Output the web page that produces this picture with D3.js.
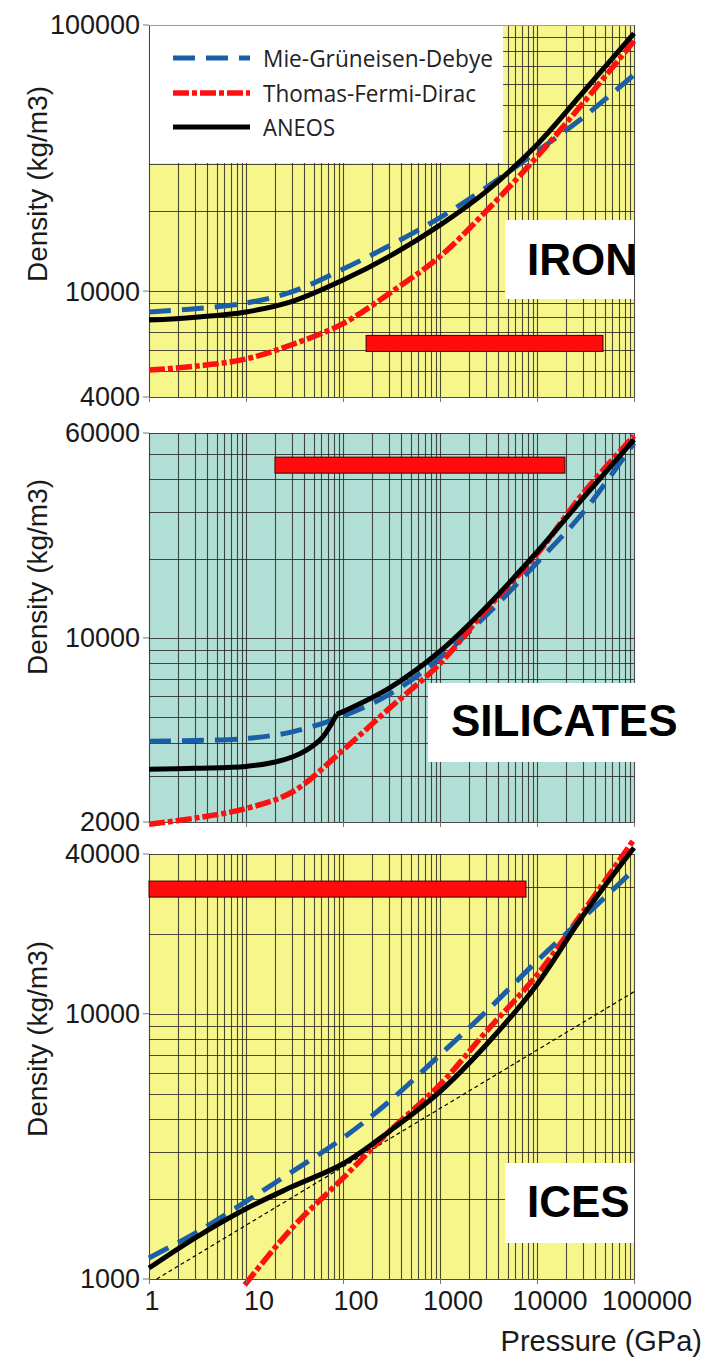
<!DOCTYPE html>
<html><head><meta charset="utf-8">
<script src="https://cdn.jsdelivr.net/npm/d3@7"></script>
<style>html,body{margin:0;padding:0;background:#fff;} svg{display:block;}</style>
</head><body>
<svg id="chart" width="719" height="1358"></svg>
<script>
// ---------------- DATA ----------------
const pressureTicks = [1, 10, 100, 1000, 10000, 100000];
const pressureTickLabels = ["1", "10", "100", "1000", "10000", "100000"];
const panelNames = ["IRON", "SILICATES", "ICES"];
const seriesNames = ["Mie-Grüneisen-Debye", "Thomas-Fermi-Dirac", "ANEOS"];
const xTitle = "Pressure (GPa)";
const yTitle = "Density (kg/m3)";

// Iron
const ironDensityDomain = [4000, 100000];
const ironDensityTicks = [4000, 10000, 100000];
const ironDensityTickLabels = ["4000", "10000", "100000"];
const ironPressure = [1, 3, 10, 30, 100, 300, 1000, 3000, 10000, 30000, 100000];
const ironMGD   = [8350, 8580, 9020, 9950, 12100, 14800, 18900, 24500, 33500, 45000, 65000];
const ironTFD   = [5050, 5220, 5560, 6300, 7550, 9800, 13500, 20000, 32000, 51000, 87000];
const ironANEOS = [7780, 7980, 8350, 9150, 11000, 13500, 17700, 23700, 35500, 56000, 93000];
const ironRange = [173, 47900];
const ironRangeLevel = 6360;

// Silicates
const silDensityDomain = [2000, 60000];
const silDensityTicks = [2000, 10000, 60000];
const silDensityTickLabels = ["2000", "10000", "60000"];
const silPressure = [1, 3, 10, 30, 100, 300, 1000, 3000, 10000, 30000, 100000];
const silMGD = [4050, 4080, 4150, 4400, 5050, 6100, 8400, 12200, 19300, 30000, 55000];
const silTFD = [1960, 2070, 2250, 2600, 3750, 5400, 8000, 12800, 20800, 35500, 58500];
const silANEOSPressure = [1, 3, 10, 20, 30, 42, 60, 73, 86, 100, 300, 1000, 3000, 10000, 30000, 100000];
const silANEOS = [3170, 3200, 3250, 3380, 3530, 3750, 4150, 4600, 5130, 5250, 6450, 8900, 13100, 21200, 34000, 56600];
const silANEOSKink = 86;
const silRange = [19.9, 19400];
const silRangeLevel = 45300;

// Ices
const iceDensityDomain = [1000, 40000];
const iceDensityTicks = [1000, 10000, 40000];
const iceDensityTickLabels = ["1000", "10000", "40000"];
const icePressure = [1, 3, 10, 30, 100, 300, 1000, 3000, 10000, 30000, 100000];
const iceMGD   = [1200, 1490, 1960, 2540, 3400, 4670, 7000, 10200, 15800, 23000, 34900];
const iceANEOS = [1100, 1430, 1840, 2230, 2720, 3600, 5090, 7640, 12900, 23500, 42200];
const iceTFDPressure = [9.7, 30, 100, 300, 1000, 3000, 10000, 30000, 100000];
const iceTFD = [950, 1560, 2400, 3600, 5400, 8570, 14000, 24300, 45400];
const iceRefPressure = [1.2, 100000];
const iceRef = [1000, 12100];
const iceRange = [1, 7700];
const iceRangeLevel = 29500;

// ---------------- STYLES / LAYOUT ----------------
const STY = {
  mgd:   {stroke: "#1b5ea6", width: 5,   dash: "22,11"},
  tfd:   {stroke: "#ff1010", width: 5.5, dash: "16,3,5,3"},
  aneos: {stroke: "#000000", width: 5,   dash: null},
  ref:   {stroke: "#000000", width: 1.2, dash: "4,3"}
};
const zip = (p, d) => p.map((v, i) => [v, d[i]]);

const panels = [
  {name: panelNames[0], domain: ironDensityDomain, ticks: ironDensityTicks, tickLabels: ironDensityTickLabels,
   top: 25, bottom: 397, bg: "#f7f68b",
   series: [{pts: zip(ironPressure, ironMGD), s: STY.mgd}, {pts: zip(ironPressure, ironTFD), s: STY.tfd}, {pts: zip(ironPressure, ironANEOS), s: STY.aneos}],
   range: ironRange, level: ironRangeLevel,
   box: [505, 220, 634, 299], label: [527, 275], ylabY: 184, legend: true},
  {name: panelNames[1], domain: silDensityDomain, ticks: silDensityTicks, tickLabels: silDensityTickLabels,
   top: 433, bottom: 822, bg: "#b2dfd5",
   series: [{pts: zip(silPressure, silMGD), s: STY.mgd}, {pts: zip(silPressure, silTFD), s: STY.tfd}, {pts: zip(silANEOSPressure, silANEOS), s: STY.aneos, kink: silANEOSKink}],
   range: silRange, level: silRangeLevel,
   box: [428, 683, 705, 762], label: [451, 736], ylabY: 577},
  {name: panelNames[2], domain: iceDensityDomain, ticks: iceDensityTicks, tickLabels: iceDensityTickLabels,
   top: 854, bottom: 1279, bg: "#f7f68b",
   series: [{pts: zip(iceRefPressure, iceRef), s: STY.ref}, {pts: zip(iceTFDPressure, iceTFD), s: STY.tfd}, {pts: zip(icePressure, iceMGD), s: STY.mgd}, {pts: zip(icePressure, iceANEOS), s: STY.aneos}],
   range: iceRange, level: iceRangeLevel,
   box: [505, 1163, 634, 1243], label: [527, 1217], ylabY: 1039, xlabels: true}
];

const svg = d3.select("#chart");
const X0 = 149, X1 = 634;
const x = d3.scaleLog().domain([1, 100000]).range([X0, X1]);

function logGrid(lo, hi) {
  const out = [];
  for (let e = Math.floor(Math.log10(lo)); e <= Math.ceil(Math.log10(hi)); e++) {
    for (let m = 1; m <= 9; m++) {
      const v = m * Math.pow(10, e);
      if (v >= lo * 0.999 && v <= hi * 1.001) out.push(v);
    }
  }
  return out;
}
const vGrid = logGrid(1, 100000);
const FONT = "'Liberation Sans', Arial, sans-serif";

panels.forEach(P => {
  const y = d3.scaleLog().domain(P.domain).range([P.bottom, P.top]);
  const g = svg.append("g");
  g.append("rect").attr("x", X0).attr("y", P.top).attr("width", X1 - X0).attr("height", P.bottom - P.top).attr("fill", P.bg);
  const grid = g.append("g").attr("stroke", "#1e1e1e").attr("stroke-opacity", 0.8).attr("stroke-width", 1.1);
  grid.selectAll("line.v").data(vGrid).join("line")
    .attr("x1", d => Math.round(x(d)) + 0.5).attr("x2", d => Math.round(x(d)) + 0.5)
    .attr("y1", P.top).attr("y2", P.bottom);
  grid.selectAll("line.h").data(logGrid(P.domain[0], P.domain[1])).join("line")
    .attr("y1", d => Math.round(y(d)) + 0.5).attr("y2", d => Math.round(y(d)) + 0.5)
    .attr("x1", X0).attr("x2", X1);

  if (P.legend) {
    g.append("rect").attr("x", X0 + 1).attr("y", P.top + 1).attr("width", 503 - X0 - 1).attr("height", 163 - P.top - 1).attr("fill", "#fff");
    g.append("line").attr("x1", X0).attr("x2", X1).attr("y1", P.top + 0.5).attr("y2", P.top + 0.5).attr("stroke", "#999").attr("stroke-width", 1);
  }
  // label box
  g.append("rect").attr("x", P.box[0]).attr("y", P.box[1]).attr("width", P.box[2] - P.box[0]).attr("height", P.box[3] - P.box[1]).attr("fill", "#fff");

  // range bar
  const by = y(P.level);
  g.append("rect").attr("x", x(P.range[0])).attr("y", by - 8).attr("width", x(P.range[1]) - x(P.range[0])).attr("height", 16)
    .attr("fill", "#ff0b0b").attr("stroke", "#3a0000").attr("stroke-width", 1);

  // curves
  const line = d3.line().x(d => x(d[0])).y(d => y(d[1])).curve(d3.curveCatmullRom.alpha(0.5));
  P.series.forEach(S => {
    let segs = [S.pts];
    if (S.kink) {
      const k = S.pts.findIndex(p => p[0] === S.kink);
      segs = [S.pts.slice(0, k + 1), S.pts.slice(k)];
    }
    const d = segs.map(sg => line(sg)).join("");
    g.append("path").attr("d", d).attr("fill", "none")
      .attr("stroke", S.s.stroke).attr("stroke-width", S.s.width)
      .attr("stroke-dasharray", S.s.dash).attr("stroke-linejoin", "round");
  });

  // panel label
  g.append("text").attr("x", P.label[0]).attr("y", P.label[1]).text(P.name)
    .attr("font-family", FONT).attr("font-weight", "bold").attr("font-size", 44).attr("fill", "#000");

  // y ticks + labels
  g.selectAll("line.yt").data(P.ticks).join("line")
    .attr("x1", 143).attr("x2", X0).attr("y1", d => y(d)).attr("y2", d => y(d)).attr("stroke", "#777").attr("stroke-width", 1);
  g.selectAll("text.yl").data(P.ticks).join("text")
    .attr("x", 140).attr("y", d => y(d)).attr("dy", "0.35em").attr("text-anchor", "end")
    .attr("font-family", FONT).attr("font-size", 27).attr("fill", "#1a1a1a")
    .text((d, i) => P.tickLabels[i]);
  // x ticks
  g.selectAll("line.xt").data(pressureTicks).join("line")
    .attr("x1", d => Math.round(x(d)) + 0.5).attr("x2", d => Math.round(x(d)) + 0.5)
    .attr("y1", P.bottom).attr("y2", P.bottom + 5).attr("stroke", "#777").attr("stroke-width", 1);

  // y title
  g.append("text").attr("transform", `translate(47,${P.ylabY}) rotate(-90)`).attr("text-anchor", "middle")
    .attr("font-family", FONT).attr("font-size", 28).attr("fill", "#1a1a1a").text(yTitle);

  if (P.xlabels) {
    g.selectAll("text.xl").data(pressureTicks).join("text")
      .attr("x", (d, i) => x(d) + (i === 0 ? 3 : 13)).attr("y", 1310).attr("text-anchor", "middle")
      .attr("font-family", FONT).attr("font-size", 27).attr("fill", "#1a1a1a")
      .text((d, i) => pressureTickLabels[i]);
    g.append("text").attr("x", 702).attr("y", 1351).attr("text-anchor", "end")
      .attr("font-family", FONT).attr("font-size", 29).attr("fill", "#1a1a1a").text(xTitle);
  }

  if (P.legend) {
    const leg = g.append("g");
    const legStyles = [STY.mgd, STY.tfd, STY.aneos];
    const legY = [58, 93, 127];
    const legW = [230, 213, 72];
    seriesNames.forEach((n, i) => {
      const s = legStyles[i];
      leg.append("line").attr("x1", 173).attr("x2", 250).attr("y1", legY[i]).attr("y2", legY[i])
        .attr("stroke", s.stroke).attr("stroke-width", s.width).attr("stroke-dasharray", s.dash);
      leg.append("text").attr("x", 263).attr("y", legY[i] + 9).text(n)
        .attr("font-family", "'Open Sans', 'Noto Sans', sans-serif").attr("font-size", 23).attr("fill", "#222")
        .attr("textLength", legW[i]).attr("lengthAdjust", "spacingAndGlyphs");
    });
  }
});
</script>
</body></html>
